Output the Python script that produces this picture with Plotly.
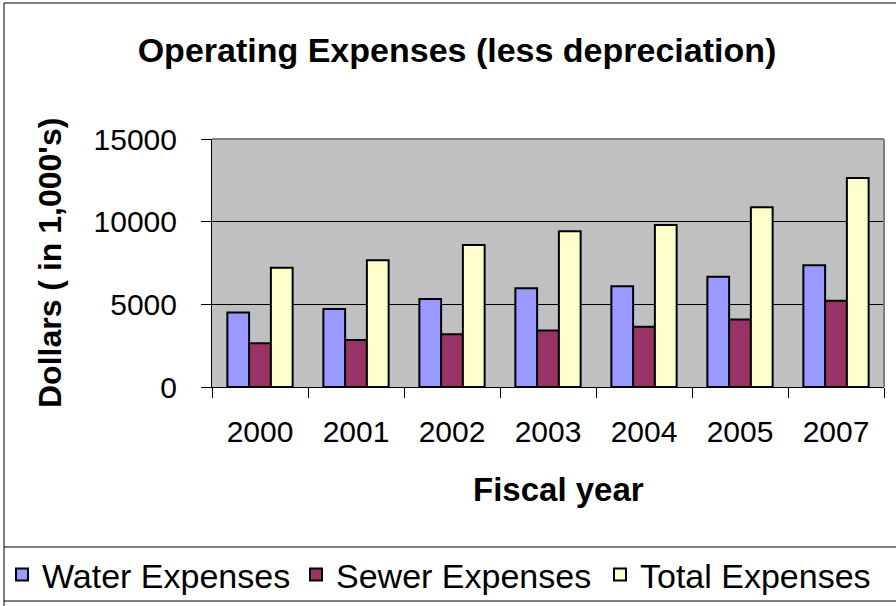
import plotly.graph_objects as go

years = ["2000", "2001", "2002", "2003", "2004", "2005", "2007"]
water = [4500, 4720, 5320, 5970, 6090, 6670, 7360]
sewer = [2640, 2850, 3190, 3410, 3650, 4090, 5220]
total = [7220, 7660, 8590, 9420, 9800, 10870, 12640]

series_names = ["Water Expenses", "Sewer Expenses", "Total Expenses"]
series_colors = ["#9999FF", "#993366", "#FFFFCC"]
legend_ids = ["legend", "legend2", "legend3"]

FONT = "Liberation Sans, Arial, sans-serif"
W, H = 896, 606
L, R, T, B = 212, 884, 139, 387

fig = go.Figure()
for name, vals, col, lg in zip(series_names, [water, sewer, total], series_colors, legend_ids):
    fig.add_trace(go.Bar(x=years, y=vals, name=name, legend=lg,
                         marker=dict(color=col, line=dict(color="black", width=2))))

def px_x(p):
    return (p - L) / (R - L)

def px_y(p):
    return (B - p) / (B - T)

shapes = [
    dict(type="line", xref="paper", yref="paper", x0=0, x1=1, y0=1, y1=1,
         line=dict(color="#808080", width=2), layer="above"),
    dict(type="line", xref="paper", yref="paper", x0=1, x1=1, y0=0, y1=1,
         line=dict(color="#808080", width=2), layer="above"),
    dict(type="line", xref="paper", yref="paper", x0=px_x(4), x1=px_x(4), y0=px_y(3), y1=px_y(610),
         line=dict(color="black", width=1)),
    dict(type="line", xref="paper", yref="paper", x0=px_x(4), x1=px_x(900), y0=px_y(3), y1=px_y(3),
         line=dict(color="black", width=1)),
    dict(type="line", xref="paper", yref="paper", x0=px_x(4), x1=px_x(900), y0=px_y(547), y1=px_y(547),
         line=dict(color="black", width=1)),
    dict(type="line", xref="paper", yref="paper", x0=px_x(4), x1=px_x(900), y0=px_y(601), y1=px_y(601),
         line=dict(color="black", width=1)),
]

annotations = [
    dict(text="<b>Fiscal year</b>", xref="paper", yref="paper", x=px_x(558), y=px_y(489),
         xanchor="center", yanchor="middle", showarrow=False,
         font=dict(family=FONT, size=33, color="black")),
    dict(text="<b>Dollars ( in 1,000's)</b>", xref="paper", yref="paper", x=px_x(50), y=0.5,
         xanchor="center", yanchor="middle", showarrow=False, textangle=-90,
         font=dict(family=FONT, size=32, color="black")),
]

def legend_at(left_px):
    return dict(orientation="h", x=px_x(left_px), y=px_y(575), xanchor="left", yanchor="middle",
                xref="paper", yref="paper",
                font=dict(family=FONT, size=34, color="black"),
                bgcolor="rgba(0,0,0,0)", borderwidth=0)

fig.update_layout(
    width=W, height=H,
    margin=dict(l=L, r=W - R, t=T, b=H - B, autoexpand=False),
    paper_bgcolor="white", plot_bgcolor="#C0C0C0",
    barmode="group", bargap=0.32, bargroupgap=0,
    title=dict(text="<b>Operating Expenses (less depreciation)</b>",
               xref="container", yref="container", x=457 / W, y=1 - 50 / H,
               xanchor="center", yanchor="middle",
               font=dict(family=FONT, size=34, color="black")),
    font=dict(family=FONT, color="black"),
    showlegend=True,
    legend=legend_at(2),
    legend2=legend_at(296),
    legend3=legend_at(600),
    shapes=shapes,
    annotations=annotations,
)

fig.update_xaxes(type="category", showgrid=False, showline=True, linecolor="black", linewidth=1,
                 ticks="outside", tickson="boundaries", ticklen=10, tickcolor="black",
                 tickfont=dict(family=FONT, size=30, color="black"), ticklabelstandoff=18)
fig.update_yaxes(range=[0, 15000], tickvals=[0, 5000, 10000, 15000], ticktext=["0", "5000", "10000", "15000"],
                 showgrid=True, gridcolor="black", gridwidth=1, zeroline=False,
                 showline=True, linecolor="black", linewidth=1,
                 ticks="outside", ticklen=10, tickcolor="black",
                 tickfont=dict(family=FONT, size=30, color="black"), ticklabelstandoff=18)

fig.write_html("out.html", config={"displayModeBar": False},
               post_script="document.body.style.margin='0px';")
